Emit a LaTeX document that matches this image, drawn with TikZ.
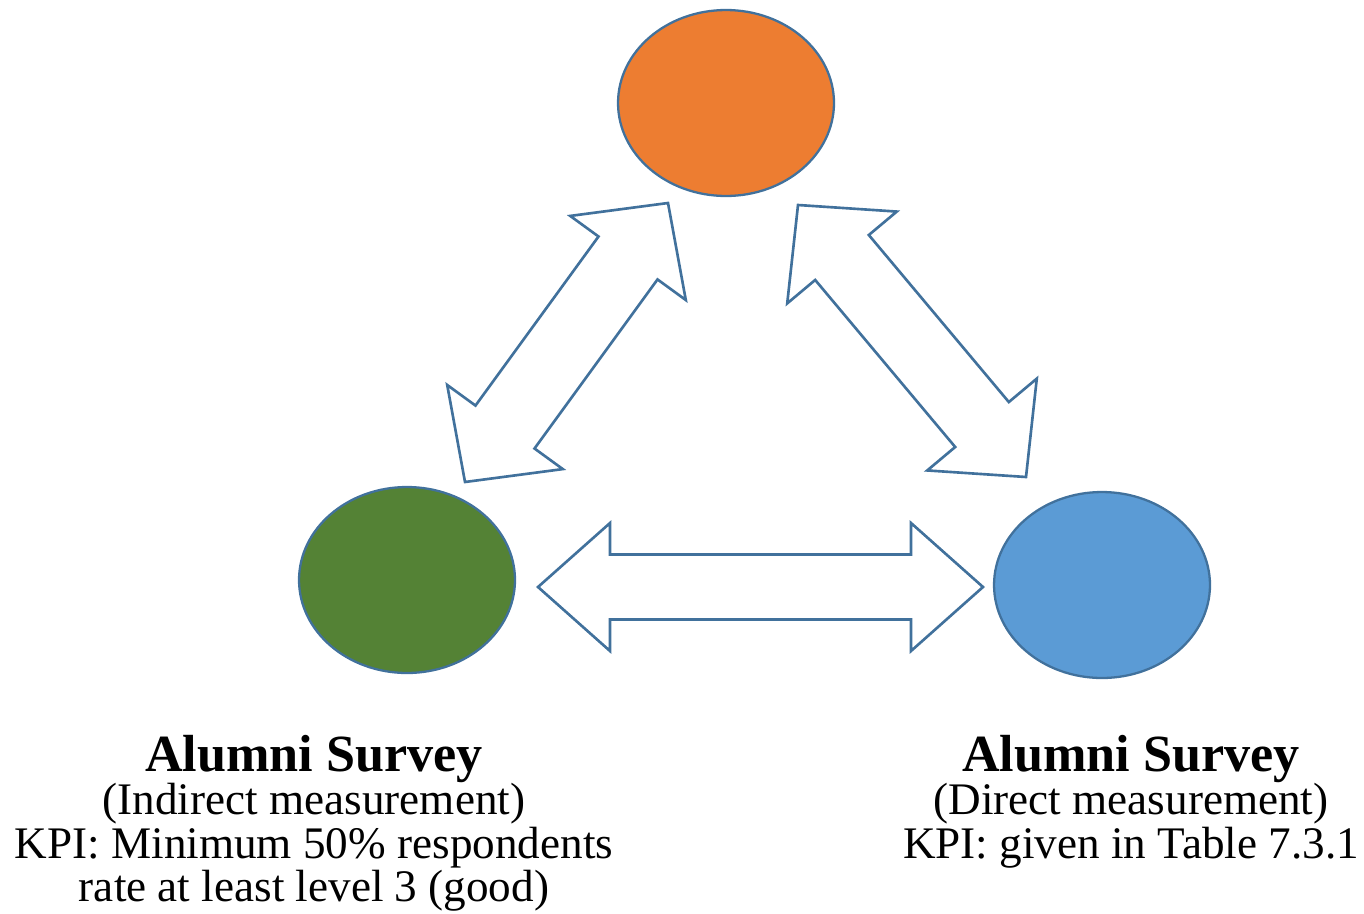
\documentclass[tikz,border=0pt]{standalone}
\usepackage{fontspec}
\setmainfont{Liberation Serif}
\usetikzlibrary{positioning,shapes.geometric,calc}
\definecolor{edgeblue}{RGB}{65,113,156}
\definecolor{fillorange}{RGB}{237,125,49}
\definecolor{fillgreen}{RGB}{84,130,53}
\definecolor{fillblue}{RGB}{91,155,213}
\newcommand{\surveyhead}{{\fontsize{29.7}{24.6}\selectfont\bfseries Alumni Survey}}
\tikzset{
  blob/.style={ellipse, draw=edgeblue, line width=1.3pt, minimum width=4.32cm, minimum height=3.72cm, inner sep=0pt},
  arrowline/.style={draw=edgeblue, line width=1.5pt, line join=miter, fill=white},
  lbl/.style={align=center, inner sep=0pt, anchor=north, font=\fontsize{25.7}{24.6}\selectfont}
}
% block arrow: tip a, tip b, head length, head half width, shaft half width
\newcommand{\blockarrow}[5]{%
  \coordinate (#1-b) at ($(#1)!#3!(#2)$);
  \coordinate (#2-b) at ($(#2)!#3!(#1)$);
  \draw[arrowline] (#1)
    -- ($(#1-b)!#4!90:(#2)$) -- ($(#1-b)!#5!90:(#2)$)
    -- ($(#2-b)!#5!-90:(#1)$) -- ($(#2-b)!#4!-90:(#1)$)
    -- (#2)
    -- ($(#2-b)!#4!90:(#1)$) -- ($(#2-b)!#5!90:(#1)$)
    -- ($(#1-b)!#5!-90:(#2)$) -- ($(#1-b)!#4!-90:(#2)$)
    -- cycle;
}
\begin{document}
\begin{tikzpicture}[x=0.02cm, y=-0.02cm]
\useasboundingbox (0,0) rectangle (1364,913);

\node[blob, fill=fillorange] (top) at (726,103) {};
\node[blob, fill=fillgreen] (left) at (407,580) {};
\node[blob, fill=fillblue] (right) at (1102,585) {};

% arrow tips
\coordinate (lt) at (668,203);
\coordinate (lb) at (465,482);
\coordinate (rt) at (798,205);
\coordinate (rb) at (1026,477);
\coordinate (hl) at (538,587);
\coordinate (hr) at (983,587);

\blockarrow{lt}{lb}{1.36cm}{1.43cm}{0.73cm}
\blockarrow{rt}{rb}{1.37cm}{1.43cm}{0.70cm}
\blockarrow{hl}{hr}{1.44cm}{1.28cm}{0.65cm}

\node[lbl] (leftlbl) at (314,735) {\surveyhead\\(Indirect measurement)\\KPI: Minimum 50\% respondents\\rate at least level 3 (good)};
\node[lbl] (rightlbl) at (1131,735) {\surveyhead\\(Direct measurement)\\KPI: given in Table 7.3.1};
\end{tikzpicture}
\end{document}
